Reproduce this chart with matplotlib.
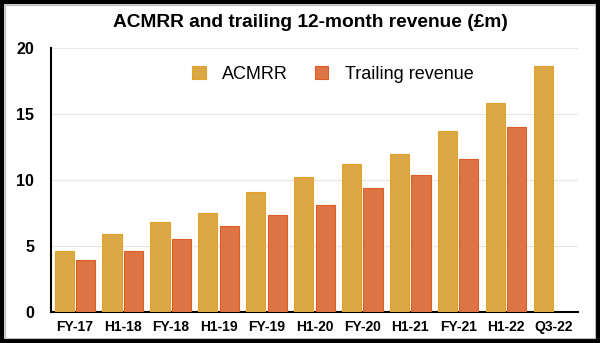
import matplotlib.pyplot as plt
import numpy as np
from matplotlib.patches import Rectangle

periods = ['FY-17', 'H1-18', 'FY-18', 'H1-19', 'FY-19', 'H1-20',
           'FY-20', 'H1-21', 'FY-21', 'H1-22', 'Q3-22']
acmrr = [4.65, 5.9, 6.85, 7.5, 9.1, 10.2, 11.2, 12.0, 13.75, 15.8, 18.6]
trailing = [3.95, 4.65, 5.55, 6.5, 7.35, 8.1, 9.4, 10.35, 11.6, 14.0]

plt.rcParams['font.family'] = ['Liberation Sans', 'DejaVu Sans']

fig = plt.figure(figsize=(6, 3.43), dpi=100)
ax = fig.add_axes([0.085, 0.0904, 0.878, 0.7696])

x = np.arange(len(periods))
w = 0.4
ax.bar(x - 0.225, acmrr, w, color='#dca745', edgecolor='#e3a12a', linewidth=0.8,
       label='ACMRR', zorder=3)
ax.bar(x[:len(trailing)] + 0.225, trailing, w, color='#de7343', edgecolor='#dc5e26',
       linewidth=0.8, label='Trailing revenue', zorder=3)

ax.set_xlim(-0.5, len(periods) - 0.5)
ax.set_ylim(0, 20)
ax.set_yticks([0, 5, 10, 15, 20])
ax.set_xticks(x)
ax.set_xticklabels(periods)
ax.tick_params(axis='x', length=0, labelsize=10, pad=6)
ax.tick_params(axis='y', length=0, labelsize=11.5, pad=12)
for lab in ax.get_xticklabels() + ax.get_yticklabels():
    lab.set_fontweight('bold')

ax.grid(axis='y', color='#e6e6e6', linewidth=0.8, zorder=0)
for s in ['top', 'right']:
    ax.spines[s].set_visible(False)
ax.spines['left'].set_linewidth(1.5)
ax.spines['bottom'].set_linewidth(1.5)

ax.legend(loc='upper center', bbox_to_anchor=(0.535, 0.995), ncol=2, frameon=False,
          fontsize=13, handlelength=0.75, handleheight=0.75, columnspacing=1.5,
          handletextpad=0.9)

fig.text(0.518, 0.935, 'ACMRR and trailing 12-month revenue (£m)', ha='center',
         va='center', fontsize=13.8, fontweight='bold')

fig.patches.append(Rectangle((0, 0), 1, 1, transform=fig.transFigure, fill=False,
                             edgecolor='black', linewidth=6, zorder=10))
fig.patches.append(Rectangle((0.0085, 0.015), 0.983, 0.97, transform=fig.transFigure,
                             fill=False, edgecolor='#bbbbbb', linewidth=0.8, zorder=10))

fig.savefig('out.png', dpi=100)
